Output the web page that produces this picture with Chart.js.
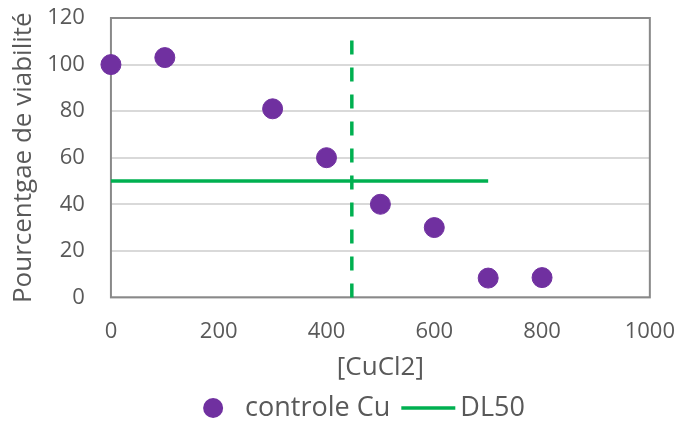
<!DOCTYPE html>
<html lang="fr">
<head>
    <meta charset="UTF-8">
    <title>Pourcentage de viabilité - CuCl2</title>
    <script src="https://cdn.jsdelivr.net/npm/chart.js"></script>
    <style>
        html, body { margin: 0; padding: 0; background: #fff; }
    </style>
</head>
<body>
<canvas id="myChart" width="679" height="423"></canvas>
<script>
    // données
    const concentrations = [0, 100, 300, 400, 500, 600, 700, 800];
    const viabilite = [100, 103, 81, 60, 40, 30, 8.3, 8.5];
    const dl50X = [0, 700];
    const dl50Y = [50, 50];
    const ligneVertX = [447, 447];
    const ligneVertY = [0, 115];

    const purple = '#7030A0';
    const green = '#00B050';
    const txt = '#595959';
    const fontName = "'Open Sans', sans-serif";

    // cadre autour de la zone de tracé
    const cadre = {
        id: 'cadre',
        beforeDatasetsDraw(chart) {
            const a = chart.chartArea, c = chart.ctx;
            c.save();
            c.strokeStyle = '#898989';
            c.lineWidth = 2;
            c.strokeRect(a.left, a.top, a.right - a.left, a.bottom - a.top);
            c.restore();
        }
    };

    // légende dessinée à la main : rond pour les points, trait pour DL50
    const legende = {
        id: 'legende',
        afterDraw(chart) {
            const c = chart.ctx;
            const ds = chart.data.datasets.filter(d => !d.hideInLegend);
            c.save();
            c.font = '27px ' + fontName;
            c.textBaseline = 'middle';
            const y = 408;
            const symW = ds.map(d => d.showLine ? 54 : 20);
            const gapSym = [22, 5];
            let total = 0;
            ds.forEach((d, i) => {
                total += symW[i] + gapSym[i] + c.measureText(d.label).width;
                if (i < ds.length - 1) total += 11;
            });
            let x = 364 - total / 2;
            ds.forEach((d, i) => {
                if (d.showLine) {
                    c.strokeStyle = d.borderColor;
                    c.lineWidth = 3.5;
                    c.beginPath();
                    c.moveTo(x, y);
                    c.lineTo(x + symW[i], y);
                    c.stroke();
                } else {
                    c.fillStyle = d.backgroundColor;
                    c.beginPath();
                    c.arc(x + 10, y, 10, 0, Math.PI * 2);
                    c.fill();
                }
                x += symW[i] + gapSym[i];
                c.fillStyle = txt;
                c.fillText(d.label, x, y);
                x += c.measureText(d.label).width + 11;
            });
            c.restore();
        }
    };

    const ctx = document.getElementById('myChart').getContext('2d');
    new Chart(ctx, {
        type: 'scatter',
        data: {
            datasets: [{
                label: 'controle Cu',
                data: concentrations.map((x, i) => ({ x: x, y: viabilite[i] })),
                backgroundColor: purple,
                borderColor: purple,
                pointRadius: 10,
                pointHoverRadius: 10,
                showLine: false,
                clip: false
            }, {
                label: 'DL50',
                data: dl50X.map((x, i) => ({ x: x, y: dl50Y[i] })),
                borderColor: green,
                backgroundColor: green,
                borderWidth: 3.5,
                pointRadius: 0,
                showLine: true,
                clip: false
            }, {
                label: 'vertical',
                hideInLegend: true,
                data: ligneVertX.map((x, i) => ({ x: x, y: ligneVertY[i] })),
                borderColor: green,
                borderWidth: 3.5,
                borderDash: [14, 13],
                pointRadius: 0,
                showLine: true,
                clip: false
            }]
        },
        options: {
            responsive: false,
            animation: false,
            events: [],
            layout: { autoPadding: false, padding: { top: 18, right: 4, left: 4, bottom: 40 } },
            plugins: {
                tooltip: { enabled: false },
                legend: { display: false }
            },
            scales: {
                x: {
                    min: 0,
                    max: 1000,
                    ticks: {
                        stepSize: 200,
                        color: txt,
                        font: { family: fontName, size: 22 },
                        padding: 4,
                        maxRotation: 0,
                        callback: v => String(v)
                    },
                    // tick marks invisibles pour écarter les libellés
                    grid: { display: true, drawOnChartArea: false, drawTicks: true, tickLength: 17, tickColor: 'rgba(0,0,0,0)' },
                    border: { display: false },
                    title: { display: true, text: '[CuCl2]', color: txt, font: { family: fontName, size: 26 }, padding: { top: 3, bottom: 0 } }
                },
                y: {
                    min: 0,
                    max: 120,
                    ticks: { stepSize: 20, color: txt, font: { family: fontName, size: 22 }, padding: 4 },
                    grid: { color: '#d9d9d9', lineWidth: 2, drawTicks: true, tickLength: 22, tickColor: 'rgba(0,0,0,0)' },
                    border: { display: false },
                    title: { display: true, text: 'Pourcentgae de viabilité', color: txt, font: { family: fontName, size: 26 }, padding: 4 }
                }
            }
        },
        plugins: [cadre, legende]
    });
</script>
</body>
</html>
